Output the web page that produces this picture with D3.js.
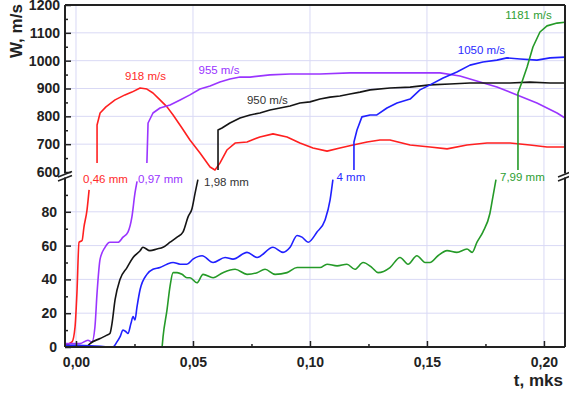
<!DOCTYPE html>
<head>
    <meta charset="UTF-8" />
    <style>
        body { margin: 0; padding: 0; background: #fff; }
        svg { display: block; font-family: "Liberation Sans", Arial, sans-serif; }
        .grid line { stroke: #d9d9f5; stroke-width: 1; }
        .frame line { stroke: #222; stroke-width: 2; }
        .axis text { font-size: 14px; font-weight: bold; fill: #222; }
        .axis line { stroke: #222; stroke-width: 1.5; }
        .curve { fill: none; stroke-width: 1.6; stroke-linejoin: round; }
        .note { font-size: 11.5px; }
        .title { font-size: 17px; font-weight: bold; fill: #222; }
    </style>
    <title>W(t)</title>
</head>

<svg width="569" height="396"></svg>
<script src="https://d3js.org/d3.v7.min.js"></script>

<script>
    // [t (mks), value]; "low" parts use the 0..100 mm scale, "high" parts the 600..1200 m/s scale
    var redLow = [[-0.0047, 1], [-0.0017, 3], [-0.0004, 12], [0.0004, 32], [0.0013, 62], [0.0026, 63], [0.0034, 71], [0.0047, 81], [0.0056, 93]]
    var redHigh = [[0.0090, 632], [0.0090, 769], [0.0103, 812], [0.0128, 834], [0.0167, 859], [0.0209, 877], [0.0239, 887], [0.0274, 902], [0.0303, 898], [0.0329, 884], [0.0359, 859], [0.0389, 834], [0.0415, 805], [0.0453, 758], [0.0487, 715], [0.0530, 668], [0.0573, 618], [0.0594, 607], [0.0615, 632], [0.0645, 679], [0.0680, 704], [0.0731, 708], [0.0786, 726], [0.0842, 737], [0.0902, 726], [0.0957, 704], [0.1013, 686], [0.1073, 675], [0.1128, 686], [0.1184, 697], [0.1244, 708], [0.1299, 715], [0.1342, 715], [0.1428, 697], [0.1513, 690], [0.1586, 683], [0.1671, 697], [0.1757, 704], [0.1855, 704], [0.1940, 697], [0.2013, 690], [0.2099, 690]]

    var purpleLow = [[-0.0047, 2], [0.0017, 2], [0.0051, 4], [0.0068, 3], [0.0081, 12], [0.0090, 32], [0.0103, 52], [0.0124, 59], [0.0145, 62], [0.0167, 62], [0.0180, 62], [0.0201, 65], [0.0222, 68], [0.0239, 77], [0.0252, 91], [0.0261, 98]]
    var purpleHigh = [[0.0303, 632], [0.0308, 776], [0.0329, 812], [0.0359, 830], [0.0402, 841], [0.0445, 859], [0.0487, 877], [0.0530, 898], [0.0573, 909], [0.0615, 923], [0.0658, 934], [0.0701, 941], [0.0744, 941], [0.0829, 949], [0.0915, 952], [0.1043, 952], [0.1171, 956], [0.1299, 956], [0.1385, 956], [0.1470, 956], [0.1556, 956], [0.1641, 945], [0.1727, 923], [0.1799, 905], [0.1885, 877], [0.1970, 848], [0.2056, 812], [0.2103, 787]]

    var blackLow = [[0.0047, 0], [0.0060, 2], [0.0103, 5], [0.0132, 7], [0.0145, 8], [0.0154, 14], [0.0167, 28], [0.0188, 40], [0.0218, 47], [0.0244, 53], [0.0274, 57], [0.0286, 59], [0.0316, 57], [0.0346, 58], [0.0372, 59], [0.0402, 62], [0.0432, 65], [0.0457, 68], [0.0479, 77], [0.0496, 82], [0.0509, 91], [0.0521, 99]]
    var blackHigh = [[0.0607, 607], [0.0607, 751], [0.0624, 758], [0.0658, 776], [0.0701, 794], [0.0744, 805], [0.0786, 812], [0.0829, 823], [0.0872, 830], [0.0915, 837], [0.0957, 848], [0.1000, 852], [0.1043, 862], [0.1086, 869], [0.1128, 873], [0.1171, 880], [0.1214, 887], [0.1257, 895], [0.1342, 902], [0.1428, 905], [0.1513, 913], [0.1598, 916], [0.1684, 920], [0.1769, 920], [0.1855, 920], [0.1940, 923], [0.2026, 920], [0.2103, 920]]

    var blueLow = [[-0.0047, 1], [0.0004, 1], [0.0158, 0], [0.0175, 3], [0.0188, 6], [0.0201, 10], [0.0214, 9], [0.0222, 8], [0.0235, 14], [0.0244, 18], [0.0252, 16], [0.0261, 24], [0.0274, 34], [0.0303, 43], [0.0329, 46], [0.0359, 47], [0.0389, 49], [0.0415, 50], [0.0445, 49], [0.0474, 49], [0.0500, 52], [0.0539, 54], [0.0586, 50], [0.0637, 53], [0.0671, 52], [0.0731, 56], [0.0774, 53], [0.0842, 59], [0.0885, 56], [0.0915, 59], [0.0945, 66], [0.0966, 65], [0.0992, 62], [0.1030, 68], [0.1064, 75], [0.1086, 87], [0.1098, 99]]
    var blueHigh = [[0.1188, 607], [0.1188, 708], [0.1201, 751], [0.1222, 798], [0.1257, 805], [0.1286, 805], [0.1329, 830], [0.1372, 848], [0.1428, 862], [0.1470, 895], [0.1513, 913], [0.1569, 938], [0.1628, 959], [0.1684, 984], [0.1739, 995], [0.1799, 1002], [0.1842, 1010], [0.1898, 1006], [0.1970, 1002], [0.2026, 1010], [0.2099, 1013]]

    var greenLow = [[0.0368, 0], [0.0372, 6], [0.0389, 22], [0.0402, 36], [0.0415, 44], [0.0432, 44], [0.0453, 43], [0.0474, 41], [0.0487, 41], [0.0517, 38], [0.0543, 43], [0.0586, 41], [0.0628, 44], [0.0680, 46], [0.0731, 43], [0.0774, 44], [0.0808, 46], [0.0851, 43], [0.0902, 44], [0.0945, 47], [0.0987, 47], [0.1043, 47], [0.1073, 49], [0.1116, 48], [0.1158, 49], [0.1192, 46], [0.1227, 50], [0.1265, 47], [0.1291, 44], [0.1342, 47], [0.1385, 53], [0.1419, 49], [0.1457, 54], [0.1492, 50], [0.1513, 50], [0.1547, 54], [0.1586, 57], [0.1628, 56], [0.1671, 58], [0.1693, 56], [0.1714, 62], [0.1739, 68], [0.1769, 79], [0.1782, 89], [0.1795, 99]]
    var greenHigh = [[0.1889, 607], [0.1889, 884], [0.1906, 923], [0.1928, 977], [0.1953, 1049], [0.1983, 1103], [0.2013, 1125], [0.2056, 1135], [0.2099, 1139]]

    var xTicks = [0, 0.05, 0.1, 0.15, 0.2]
    var highTicks = [600, 700, 800, 900, 1000, 1100, 1200]
    var lowTicks = [0, 20, 40, 60, 80]

    // label: [text, t, value]
    var speedNotes = [["918 m/s", 0.0297, 931], ["955 m/s", 0.0611, 952], ["950 m/s", 0.0818, 844], ["1050 m/s", 0.1733, 1024], ["1181 m/s", 0.1934, 1150]]
    var depthNotes = [["0,46 mm", 0.0126, 97], ["0,97 mm", 0.0361, 97], ["1,98 mm", 0.0643, 95], ["4 mm", 0.1175, 98], ["7,99 mm", 0.1908, 98]]
    var colors = ["#ff2020", "#9a35ff", "#151515", "#2020ff", "#259a28"]
    var noteColors = ["#ff2a2a", "#9a35ff", "#333", "#2a2aff", "#2e9e33"]

    var svg = d3.select("svg")
    // note: "top" is reserved on window, so use plot* names
    var plotLeft = 65, plotRight = 565, plotTop = 5, plotBottom = 347,
        breakHi = 172, breakLo = 178

    var x = d3.scaleLinear().domain([-0.0047, 0.209]).range([plotLeft, plotRight])
    var yHigh = d3.scaleLinear().domain([600, 1200]).range([breakHi, plotTop])
    var yLow = d3.scaleLinear().domain([0, 100]).range([plotBottom, breakLo])

    var locale = d3.formatLocale({ decimal: ",", thousands: " ", grouping: [3], currency: ["", ""] })
    var fmtX = locale.format(".2f")

    // grid
    var grid = svg.append("g").attr("class", "grid")
    grid.selectAll(".gv").data(xTicks).enter().append("line")
        .attr("x1", d => x(d)).attr("x2", d => x(d)).attr("y1", plotTop).attr("y2", plotBottom)
    grid.selectAll(".gh").data(highTicks.slice(1, -1)).enter().append("line")
        .attr("x1", plotLeft).attr("x2", plotRight).attr("y1", d => yHigh(d)).attr("y2", d => yHigh(d))
    grid.selectAll(".gl").data(lowTicks.slice(1)).enter().append("line")
        .attr("x1", plotLeft).attr("x2", plotRight).attr("y1", d => yLow(d)).attr("y2", d => yLow(d))

    // curves
    svg.append("clipPath").attr("id", "plot").append("rect")
        .attr("x", plotLeft).attr("y", plotTop).attr("width", plotRight - plotLeft).attr("height", plotBottom - plotTop)

    var lineLow = d3.line().x(d => x(d[0])).y(d => yLow(d[1])).curve(d3.curveMonotoneX)
    var lineHigh = d3.line().x(d => x(d[0])).y(d => yHigh(d[1])).curve(d3.curveLinear)

    var lows = [redLow, purpleLow, blackLow, blueLow, greenLow]
    var highs = [redHigh, purpleHigh, blackHigh, blueHigh, greenHigh]
    var curves = svg.append("g").attr("clip-path", "url(#plot)")
    lows.forEach((s, i) => {
        curves.append("path").attr("class", "curve").attr("stroke", colors[i]).attr("d", lineLow(s))
    })
    highs.forEach((s, i) => {
        curves.append("path").attr("class", "curve").attr("stroke", colors[i]).attr("d", lineHigh(s))
    })

    // frame with axis breaks
    var frame = svg.append("g").attr("class", "frame")
    var segs = [[plotLeft, plotTop, plotRight, plotTop], [plotLeft, plotBottom, plotRight, plotBottom],
        [plotLeft, plotTop, plotLeft, breakHi + 1.5], [plotLeft, breakLo - 0.5, plotLeft, plotBottom],
        [plotRight, plotTop, plotRight, breakHi + 1.5], [plotRight, breakLo - 0.5, plotRight, plotBottom]]
    frame.selectAll(".seg").data(segs).enter().append("line")
        .attr("x1", d => d[0]).attr("y1", d => d[1]).attr("x2", d => d[2]).attr("y2", d => d[3])
    ;[plotLeft, plotRight].forEach(px => {
        frame.append("line").attr("x1", px - 7).attr("y1", breakHi + 5).attr("x2", px + 7).attr("y2", breakHi - 0.5)
            .style("stroke-width", 1.5)
        frame.append("line").attr("x1", px - 7).attr("y1", breakLo + 3).attr("x2", px + 7).attr("y2", breakLo - 2.5)
            .style("stroke-width", 1.5)
    })

    // axes, ticks point inward
    function clean(g) { g.select(".domain").remove() }

    svg.append("g").attr("class", "axis").attr("transform", `translate(0,${plotBottom})`)
        .call(d3.axisBottom(x).tickValues(xTicks).tickSizeInner(-6).tickSizeOuter(0).tickPadding(10).tickFormat(fmtX))
        .call(clean)
    svg.append("g").attr("class", "axis").attr("transform", `translate(0,${plotBottom})`)
        .call(d3.axisBottom(x).tickValues([0.025, 0.075, 0.125, 0.175]).tickSizeInner(-3).tickSizeOuter(0).tickFormat(""))
        .call(clean)

    svg.append("g").attr("class", "axis").attr("transform", `translate(${plotLeft},0)`)
        .call(d3.axisLeft(yHigh).tickValues(highTicks).tickSizeInner(-6).tickSizeOuter(0).tickPadding(5).tickFormat(d3.format("d")))
        .call(clean)
    svg.append("g").attr("class", "axis").attr("transform", `translate(${plotLeft},0)`)
        .call(d3.axisLeft(yHigh).tickValues(d3.range(650, 1200, 100)).tickSizeInner(-3).tickSizeOuter(0).tickFormat(""))
        .call(clean)
    svg.append("g").attr("class", "axis").attr("transform", `translate(${plotLeft},0)`)
        .call(d3.axisLeft(yLow).tickValues(lowTicks).tickSizeInner(-6).tickSizeOuter(0).tickPadding(8).tickFormat(d3.format("d")))
        .call(clean)
    svg.append("g").attr("class", "axis").attr("transform", `translate(${plotLeft},0)`)
        .call(d3.axisLeft(yLow).tickValues([10, 30, 50, 70, 90]).tickSizeInner(-3).tickSizeOuter(0).tickFormat(""))
        .call(clean)

    // annotations
    svg.selectAll(".speed").data(speedNotes).enter().append("text")
        .attr("class", "note").attr("text-anchor", "middle")
        .attr("x", d => x(d[1])).attr("y", d => yHigh(d[2]))
        .attr("fill", (d, i) => noteColors[i]).text(d => d[0])
    svg.selectAll(".depth").data(depthNotes).enter().append("text")
        .attr("class", "note").attr("text-anchor", "middle")
        .attr("x", d => x(d[1])).attr("y", d => yLow(d[2]))
        .attr("fill", (d, i) => noteColors[i]).text(d => d[0])

    // axis titles
    svg.append("text").attr("class", "title")
        .attr("transform", "translate(22,58) rotate(-90)").text("W, m/s")
    svg.append("text").attr("class", "title").attr("text-anchor", "end")
        .attr("x", 563).attr("y", 386).text("t, mks")
</script>
